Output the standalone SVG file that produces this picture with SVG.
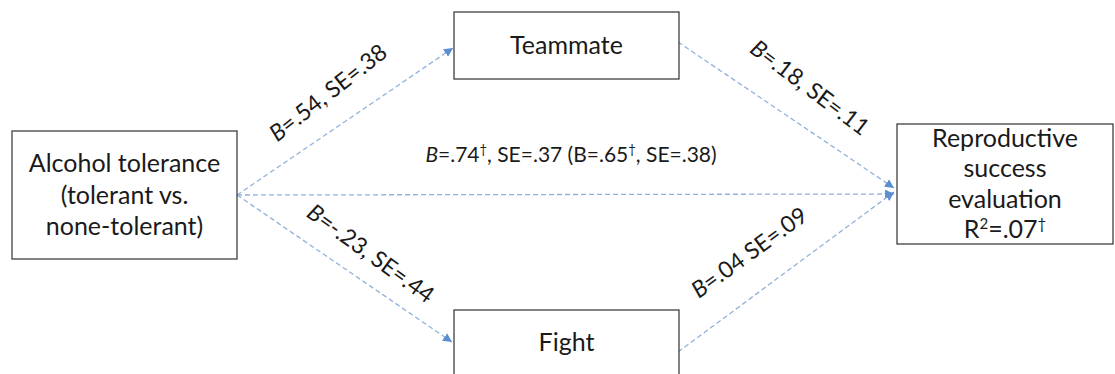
<svg xmlns="http://www.w3.org/2000/svg" width="1115" height="374" viewBox="0 0 1115 374">
<style>
.box{fill:#fff;stroke:#404040;stroke-width:1.3}
.nt{font-family:Lato,"Liberation Sans",sans-serif;font-size:25px;fill:#1a1a1a;text-anchor:middle}
.lb{font-family:Lato,"Liberation Sans",sans-serif;font-size:21px;fill:#1a1a1a;text-anchor:middle}
.el{font-size:23px}
.cn{fill:none;stroke:#8fb2dc;stroke-width:1.3;stroke-dasharray:5 3}
</style>
<defs>
<marker id="ah" viewBox="0 0 10 10" refX="10" refY="5" markerWidth="9" markerHeight="9" markerUnits="userSpaceOnUse" orient="auto">
<path d="M0,0 L10,5 L0,10 z" fill="#5b8fd0"/>
</marker>
</defs>
<rect width="1115" height="374" fill="#fff"/>
<g id="connectors">
<line class="cn" x1="237" y1="195" x2="453" y2="48" marker-end="url(#ah)"/>
<line class="cn" x1="678" y1="42" x2="894" y2="188" marker-end="url(#ah)"/>
<line class="cn" x1="237" y1="195" x2="894" y2="194" marker-end="url(#ah)"/>
<line class="cn" x1="237" y1="195" x2="452" y2="342" marker-end="url(#ah)"/>
<line class="cn" x1="678" y1="352" x2="894" y2="192" marker-end="url(#ah)"/>
</g>
<g id="labels">
<text class="lb el" transform="translate(333,99) rotate(-38)"><tspan font-style="italic">B</tspan>=.54, SE=.38</text>
<text class="lb el" transform="translate(805,94) rotate(37)"><tspan font-style="italic">B</tspan>=.18, SE=.11</text>
<text class="lb el" transform="translate(366,260) rotate(36)"><tspan font-style="italic">B</tspan>=-.23, SE=.44</text>
<text class="lb el" transform="translate(754,259) rotate(-36)"><tspan font-style="italic">B</tspan>=.04 SE=.09</text>
<text class="lb" x="571" y="162"><tspan font-style="italic">B</tspan>=.74<tspan font-size="13" dy="-8">†</tspan><tspan dy="8">, SE=.37 (B=.65</tspan><tspan font-size="13" dy="-8">†</tspan><tspan dy="8">, SE=.38)</tspan></text>
</g>
<g id="node-alcohol">
<rect class="box" x="12" y="131" width="225" height="128"/>
<text class="nt" x="124.5" y="172">Alcohol tolerance</text>
<text class="nt" x="124.5" y="204">(tolerant vs.</text>
<text class="nt" x="124.5" y="235">none-tolerant)</text>
</g>
<g id="node-teammate">
<rect class="box" x="454" y="12" width="225" height="67"/>
<text class="nt" x="566.5" y="54">Teammate</text>
</g>
<g id="node-fight">
<rect class="box" x="454" y="310" width="225" height="80"/>
<text class="nt" x="566.5" y="351">Fight</text>
</g>
<g id="node-reproductive">
<rect class="box" x="897" y="124" width="216" height="120"/>
<text class="nt" x="1005" y="147">Reproductive</text>
<text class="nt" x="1005" y="177">success</text>
<text class="nt" x="1005" y="208">evaluation</text>
<text class="nt" x="1005" y="238">R<tspan font-size="15" dy="-9">2</tspan><tspan dy="9">=.07</tspan><tspan font-size="15" dy="-9">†</tspan></text>
</g>
</svg>
